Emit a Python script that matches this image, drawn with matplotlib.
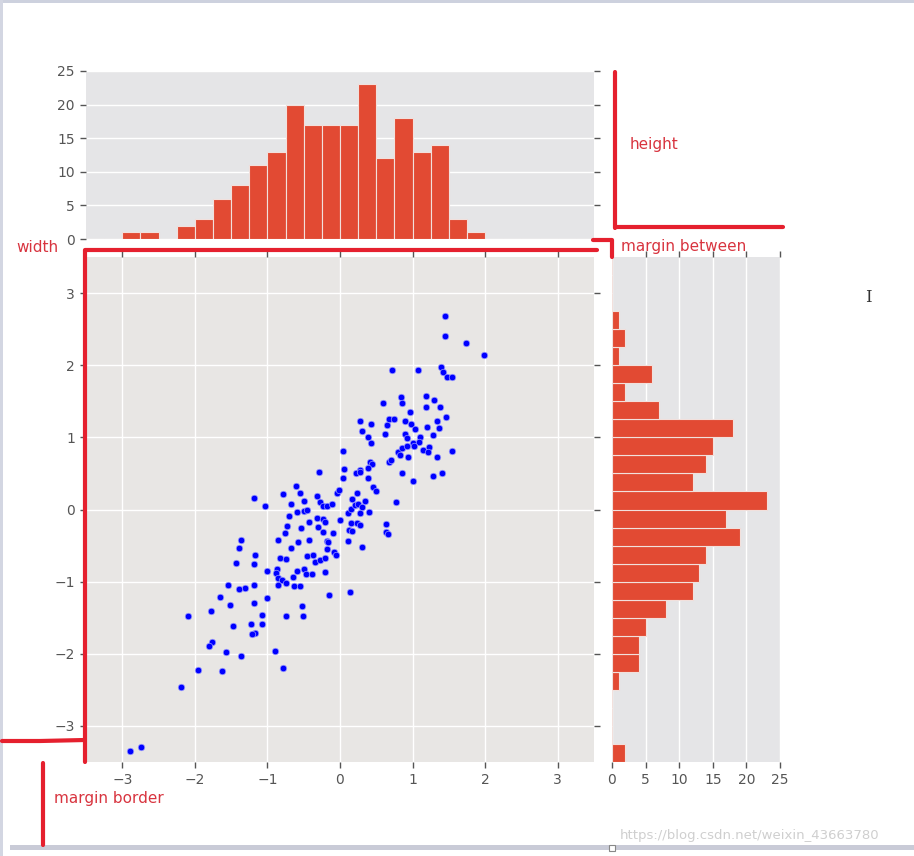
import matplotlib
matplotlib.use('Agg')
import matplotlib.pyplot as plt
from matplotlib.lines import Line2D
from matplotlib.patches import Rectangle
import numpy as np

# scatter points
x_vals = [1.44, 1.44, 1.73, 1.98,
          0.72, 1.07, 1.39, 1.42, 1.48, 1.55, 0.84, 1.19, 0.59, 0.85, 1.30, 1.19, 1.38, 0.96,
          0.28, 0.43, 0.67, 0.75, 0.89, 0.98, 0.65, 1.04, 1.20, 1.33, 1.46, 1.37, 0.31, 0.38,
          0.43, 0.62, 0.90, 0.92, 1.00, 1.10, 1.09, 1.28, 0.04, 0.80, 0.82, 0.86, 0.93, 1.02,
          1.15, 1.23, 1.21, 1.54, 1.33, 0.94, 0.42, 0.44, 0.67, 0.70, 0.05, 0.28, 0.39, 0.85,
          1.28, 1.41, 1.01,
          -0.29, 0.04, 0.22, 0.28, 0.38, -0.61, -0.79, -0.55, -1.19, -1.03, -0.68, -0.49, -0.32,
          -0.28, -0.24, -0.18, -0.11, -0.04, -0.02, 0.17, 0.23, 0.35, 0.45, 0.49, 0.77, 0.11,
          0.15, 0.20, 0.25, 0.31, 0.40, 0.28, -0.70, -0.59, -0.49, -0.45, -0.32, -0.24, -0.20,
          -0.43, 0.00, 0.15, 0.24, 0.28, 0.64, 0.12, 0.17, 0.63, 0.66, -0.73, -0.76, -0.54,
          -0.30, -0.23, -0.09, -0.85, -0.58, -0.43, -0.18, -0.16, 0.11, -1.37, -1.39, -0.68,
          -0.18, -0.08, -0.06, 0.31, -1.17, -0.83, -0.74, -0.45, -0.37, -0.35, -0.28, -0.21,
          -1.18, -1.00, -0.87, -0.88, -0.59, -0.49, -0.47, -0.39, -0.65, -0.20, -0.86, -0.80,
          -0.74, -0.86, -0.63, -0.55, -1.19, -1.31, -1.39, -1.01, -0.15, 0.14,
          -1.43, -1.54, -1.65, -1.18, -1.51, -0.52, -2.10, -1.78, -1.08, -0.74, -0.51, -1.47,
          -1.22, -1.08, -1.17, -1.21, -1.76, -1.81, -1.57, -1.36, -0.90, -1.95, -1.63, -0.79,
          -2.19, -2.90, -2.74]
y_vals = [2.68, 2.41, 2.31, 2.14,
          1.94, 1.94, 1.98, 1.91, 1.84, 1.83, 1.56, 1.58, 1.47, 1.47, 1.52, 1.42, 1.42, 1.35,
          1.23, 1.19, 1.25, 1.25, 1.23, 1.19, 1.17, 1.11, 1.15, 1.23, 1.28, 1.13, 1.09, 1.00,
          0.92, 1.04, 1.05, 0.99, 0.92, 1.00, 0.94, 1.03, 0.81, 0.80, 0.76, 0.85, 0.88, 0.88,
          0.83, 0.86, 0.80, 0.81, 0.73, 0.73, 0.66, 0.63, 0.66, 0.69, 0.56, 0.55, 0.57, 0.51,
          0.47, 0.51, 0.40,
          0.52, 0.44, 0.50, 0.52, 0.44, 0.32, 0.21, 0.23, 0.16, 0.05, 0.08, 0.12, 0.19,
          0.10, 0.05, 0.05, 0.08, 0.23, 0.27, 0.14, 0.23, 0.12, 0.31, 0.25, 0.10, -0.05,
          0.01, 0.06, 0.07, 0.03, -0.03, -0.05, -0.09, -0.03, -0.02, 0.00, -0.12, -0.13, -0.18,
          -0.18, -0.15, -0.19, -0.19, -0.21, -0.20, -0.28, -0.30, -0.31, -0.34, -0.23, -0.32, -0.25,
          -0.24, -0.31, -0.32, -0.42, -0.45, -0.42, -0.44, -0.45, -0.43, -0.42, -0.54, -0.53,
          -0.55, -0.59, -0.63, -0.52, -0.63, -0.67, -0.69, -0.65, -0.63, -0.73, -0.70, -0.67,
          -0.75, -0.85, -0.83, -0.88, -0.85, -0.83, -0.90, -0.90, -0.93, -0.87, -0.95, -0.98,
          -1.02, -1.04, -1.06, -1.06, -1.04, -1.09, -1.10, -1.22, -1.18, -1.15,
          -0.74, -1.04, -1.21, -1.29, -1.33, -1.34, -1.47, -1.41, -1.46, -1.47, -1.47, -1.62,
          -1.59, -1.59, -1.71, -1.73, -1.84, -1.89, -1.97, -2.03, -1.96, -2.22, -2.24, -2.20,
          -2.46, -3.35, -3.29]

# histogram counts per 0.25 bin, first bin starts at -3.5
top_counts = [0, 0, 1, 1, 0, 2, 3, 6, 8, 11, 13, 20, 17, 17,
              17, 23, 12, 18, 13, 14, 3, 1, 0, 0, 0, 0, 0, 0]
right_counts = [2, 0, 0, 0, 1, 4, 4, 5, 8, 12, 13, 14, 19, 17,
                23, 12, 14, 15, 18, 7, 2, 6, 1, 2, 1, 0, 0, 0]
bin_width = 0.25
lim = 3.5
ticks = [-3, -2, -1, 0, 1, 2, 3]
count_ticks = [0, 5, 10, 15, 20, 25]

W, H = 914, 856
BAR = '#E24A33'
GREY = '#555555'
RED = '#E5202E'
TXT_RED = '#D8343F'


def fx(px):
    return px / W


def fy(py):
    return 1 - py / H


def style(ax, face):
    ax.set_facecolor(face)
    for s in ax.spines.values():
        s.set_visible(False)
    ax.set_axisbelow(True)
    ax.tick_params(direction='out', length=4, width=1, color=GREY,
                   labelcolor=GREY, labelsize=10, pad=4)


fig = plt.figure(figsize=(9.14, 8.56), dpi=100)

ax_sc = fig.add_axes([fx(86), fy(762), fx(594) - fx(86), fy(257) - fy(762)])
ax_top = fig.add_axes([fx(86), fy(239), fx(594) - fx(86), fy(71) - fy(239)])
ax_rt = fig.add_axes([fx(612), fy(762), fx(780) - fx(612), fy(257) - fy(762)])

# main scatter
style(ax_sc, '#E8E6E4')
ax_sc.scatter(x_vals, y_vals, s=22, c='#0000ff', edgecolors='#9a9aff',
              linewidths=0.5, zorder=3)
ax_sc.set_xlim(-lim, lim)
ax_sc.set_ylim(-lim, lim)
ax_sc.set_xticks(ticks)
ax_sc.set_yticks(ticks)
ax_sc.grid(True, color='white', linewidth=1.0)
ax_sc.tick_params(top=True, right=True)

bins = np.arange(-lim, lim, bin_width)

# histogram on top
style(ax_top, '#E5E5E7')
ax_top.bar(bins, top_counts, width=bin_width, align='edge', color=BAR,
           edgecolor='#F2E0DC', linewidth=0.8)
ax_top.set_xlim(-lim, lim)
ax_top.set_ylim(0, 25)
ax_top.set_yticks(count_ticks)
ax_top.grid(True, axis='y', color='white', linewidth=1.0)
ax_top.tick_params(axis='x', bottom=False, labelbottom=False)
ax_top.tick_params(axis='y', right=True)

# histogram on the right
style(ax_rt, '#E5E5E7')
ax_rt.barh(bins, right_counts, height=bin_width, align='edge', color=BAR,
           edgecolor='#F2E0DC', linewidth=0.8)
ax_rt.set_ylim(-lim, lim)
ax_rt.set_xlim(0, 25)
ax_rt.set_xticks(count_ticks)
ax_rt.grid(True, axis='x', color='white', linewidth=1.0)
ax_rt.tick_params(axis='y', left=False, labelleft=False)
ax_rt.tick_params(axis='x', top=True)

# window frame of the screenshot
fig.add_artist(Rectangle((0, fy(3)), 1, fy(0) - fy(3), transform=fig.transFigure,
                         color='#cdd1de', lw=0))
fig.add_artist(Rectangle((0, 0), fx(3), 1, transform=fig.transFigure,
                         color='#d3d6e2', lw=0))
fig.add_artist(Rectangle((fx(10), fy(850)), 1, fy(845) - fy(850), transform=fig.transFigure,
                         color='#c9cbd7', lw=0))
fig.add_artist(Rectangle((fx(609), fy(851)), fx(6), fy(845) - fy(851), transform=fig.transFigure,
                         facecolor='white', edgecolor='#888888', lw=0.8))


# red hand-drawn annotations
def red_line(xs, ys, lw=3.0):
    fig.add_artist(Line2D([fx(v) for v in xs], [fy(v) for v in ys],
                          transform=fig.transFigure, color=RED, lw=lw,
                          solid_capstyle='round', solid_joinstyle='round'))


red_line([85, 85, 597], [762, 250, 250])
red_line([593, 612, 612], [240, 240, 257])
red_line([615, 615], [72, 228])
red_line([615, 783], [227, 227])
red_line([2, 40, 85], [741, 741, 740])
red_line([43, 43], [763, 845])

fig.text(fx(16), fy(248), 'width', color=TXT_RED, fontsize=11, va='center')
fig.text(fx(630), fy(144), 'height', color=TXT_RED, fontsize=11, va='center')
fig.text(fx(621), fy(247), 'margin between', color=TXT_RED, fontsize=11, va='center')
fig.text(fx(54), fy(798), 'margin border', color=TXT_RED, fontsize=11, va='center')

# watermark and cursor from the screenshot
fig.text(fx(620), fy(836), 'https://blog.csdn.net/weixin_43663780', color='#cfcfcf',
         fontsize=9.5, va='center')
fig.text(fx(868), fy(298), 'I', color='#333333', fontsize=12, family='DejaVu Serif',
         ha='center', va='center')

fig.savefig('out.png', dpi=100, facecolor='white')
